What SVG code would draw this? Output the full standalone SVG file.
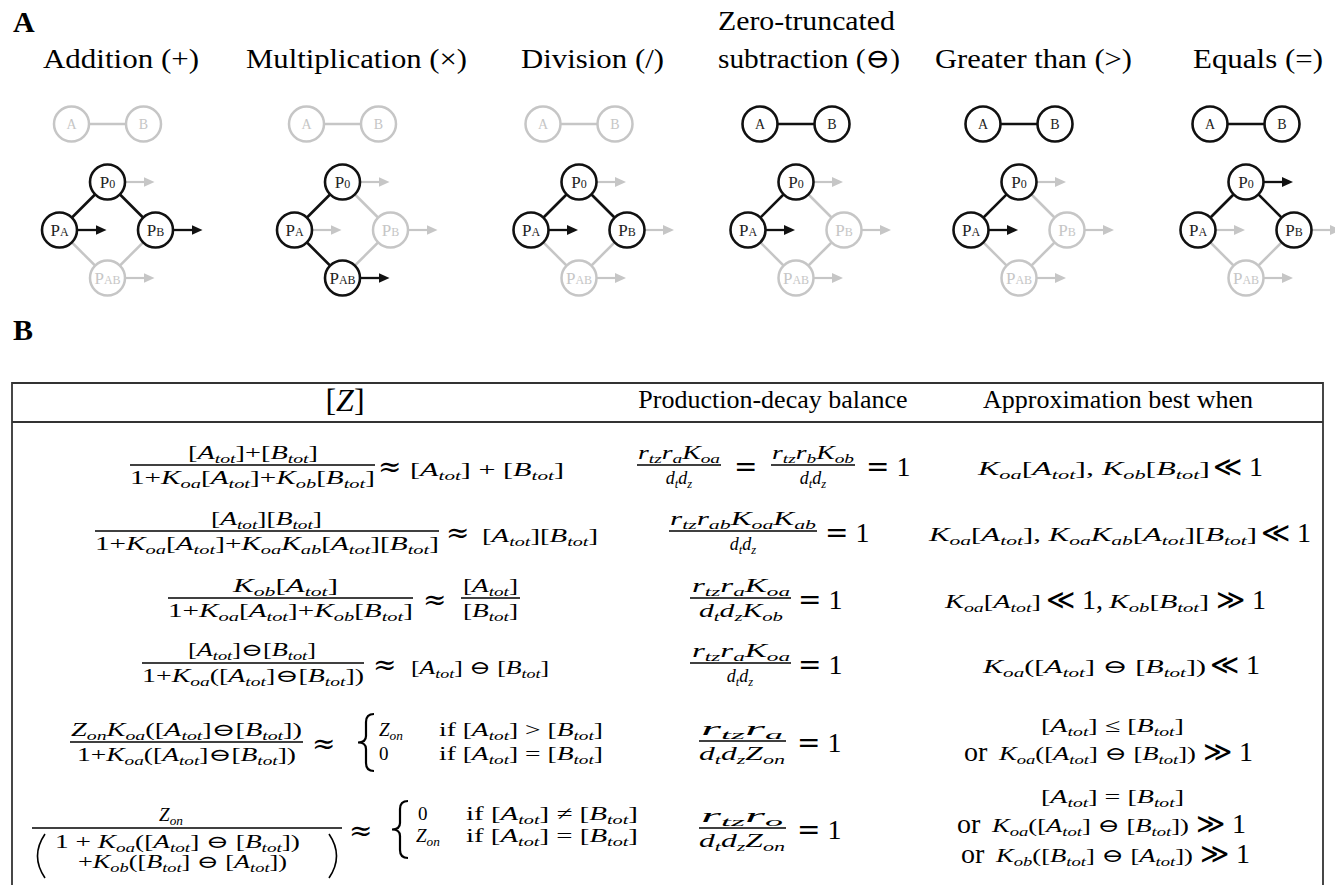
<svg xmlns="http://www.w3.org/2000/svg" width="1335" height="885" viewBox="0 0 1335 885">
<style>
.lbl{font-family:"Liberation Serif",serif;font-weight:bold;font-size:30px;fill:#000}
.ttl{font-family:"Liberation Serif","DejaVu Serif",serif;font-size:28px;fill:#000}
.nk circle{fill:#fff;stroke:#111;stroke-width:2.6}
.ng circle{fill:#fff;stroke:#c6c6c6;stroke-width:2.5}
.nk text{fill:#222}
.ng text{fill:#c6c6c6}
.nt{font-family:"Liberation Serif",serif;font-size:14px;text-anchor:middle}
.np{font-family:"Liberation Serif",serif;font-size:17px;text-anchor:middle}
.ek{stroke:#111;stroke-width:2.6}
.eg{stroke:#c6c6c6;stroke-width:2.5}
.ak{stroke:#111;stroke-width:2.3;marker-end:url(#mk)}
.ag{stroke:#c6c6c6;stroke-width:2.2;marker-end:url(#mg)}
.hd{font-family:"Liberation Serif",serif;font-size:26px;fill:#000;text-anchor:middle}
.m{font-family:"Liberation Serif","DejaVu Serif",serif;font-style:italic;fill:#000;font-size:18px}
.m19{font-size:19px}
.u{font-style:normal}
.s{font-size:70%}
.big{font-family:"Liberation Serif","DejaVu Serif",serif;font-size:28px;fill:#000}
.ap{font-family:"DejaVu Serif",serif;font-size:28px;fill:#000}
.sy{font-family:"DejaVu Serif",serif}
.bar{stroke:#000;stroke-width:1.4}
.br{fill:none;stroke:#000;stroke-width:1.6}
.brc{fill:none;stroke:#000;stroke-width:2.2}
.tb{fill:none;stroke:#333;stroke-width:1.8}
</style>
<defs>
<marker id="mk" markerUnits="userSpaceOnUse" markerWidth="12" markerHeight="10" refX="2" refY="5" orient="auto"><path d="M0,0 L11,5 L0,10 z" fill="#111"/></marker>
<marker id="mg" markerUnits="userSpaceOnUse" markerWidth="12" markerHeight="10" refX="2" refY="5" orient="auto"><path d="M0,0 L11,5 L0,10 z" fill="#c6c6c6"/></marker>
</defs>

<text class="lbl" x="13" y="32">A</text>
<text class="lbl" x="13" y="340">B</text>

<g id="titles">
<text class="ttl" x="43" y="68" textLength="156" lengthAdjust="spacingAndGlyphs">Addition (+)</text>
<text class="ttl" x="246" y="68" textLength="221" lengthAdjust="spacingAndGlyphs">Multiplication (×)</text>
<text class="ttl" x="521" y="68" textLength="143" lengthAdjust="spacingAndGlyphs">Division (/)</text>
<text class="ttl" x="718" y="30" textLength="177" lengthAdjust="spacingAndGlyphs">Zero-truncated</text>
<text class="ttl" x="718" y="68" textLength="182" lengthAdjust="spacingAndGlyphs">subtraction (⊖)</text>
<text class="ttl" x="935" y="68" textLength="197" lengthAdjust="spacingAndGlyphs">Greater than (&gt;)</text>
<text class="ttl" x="1193" y="68" textLength="130" lengthAdjust="spacingAndGlyphs">Equals (=)</text>
</g>

<g id="connectors">
<!-- col1 -->
<line class="eg" x1="71.5" y1="124" x2="143.5" y2="124"/>
<line class="eg" x1="59.5" y1="230" x2="107.5" y2="278"/>
<line class="eg" x1="155.5" y1="230" x2="107.5" y2="278"/>
<line class="ek" x1="107.5" y1="182" x2="59.5" y2="230"/>
<line class="ek" x1="107.5" y1="182" x2="155.5" y2="230"/>
<line class="ag" x1="125.5" y1="182" x2="145.5" y2="182"/>
<line class="ak" x1="77.5" y1="230" x2="97.5" y2="230"/>
<line class="ak" x1="173.5" y1="230" x2="193.5" y2="230"/>
<line class="ag" x1="125.5" y1="278" x2="145.5" y2="278"/>
<!-- col2 -->
<line class="eg" x1="306.5" y1="124" x2="378.5" y2="124"/>
<line class="eg" x1="342.5" y1="182" x2="390.5" y2="230"/>
<line class="eg" x1="390.5" y1="230" x2="342.5" y2="278"/>
<line class="ek" x1="342.5" y1="182" x2="294.5" y2="230"/>
<line class="ek" x1="294.5" y1="230" x2="342.5" y2="278"/>
<line class="ag" x1="360.5" y1="182" x2="380.5" y2="182"/>
<line class="ag" x1="312.5" y1="230" x2="332.5" y2="230"/>
<line class="ag" x1="408.5" y1="230" x2="428.5" y2="230"/>
<line class="ak" x1="360.5" y1="278" x2="380.5" y2="278"/>
<!-- col3 -->
<line class="eg" x1="543" y1="124" x2="615" y2="124"/>
<line class="eg" x1="531" y1="230" x2="579" y2="278"/>
<line class="eg" x1="627" y1="230" x2="579" y2="278"/>
<line class="ek" x1="579" y1="182" x2="531" y2="230"/>
<line class="ek" x1="579" y1="182" x2="627" y2="230"/>
<line class="ag" x1="597" y1="182" x2="617" y2="182"/>
<line class="ak" x1="549" y1="230" x2="569" y2="230"/>
<line class="ag" x1="645" y1="230" x2="665" y2="230"/>
<line class="ag" x1="597" y1="278" x2="617" y2="278"/>
<!-- col4 -->
<line class="eg" x1="796" y1="182" x2="844" y2="230"/>
<line class="eg" x1="748" y1="230" x2="796" y2="278"/>
<line class="eg" x1="844" y1="230" x2="796" y2="278"/>
<line class="ek" x1="760" y1="124" x2="832" y2="124"/>
<line class="ek" x1="796" y1="182" x2="748" y2="230"/>
<line class="ag" x1="814" y1="182" x2="834" y2="182"/>
<line class="ak" x1="766" y1="230" x2="786" y2="230"/>
<line class="ag" x1="862" y1="230" x2="882" y2="230"/>
<line class="ag" x1="814" y1="278" x2="834" y2="278"/>
<!-- col5 -->
<line class="eg" x1="1019" y1="182" x2="1067" y2="230"/>
<line class="eg" x1="971" y1="230" x2="1019" y2="278"/>
<line class="eg" x1="1067" y1="230" x2="1019" y2="278"/>
<line class="ek" x1="983" y1="124" x2="1055" y2="124"/>
<line class="ek" x1="1019" y1="182" x2="971" y2="230"/>
<line class="ag" x1="1037" y1="182" x2="1057" y2="182"/>
<line class="ak" x1="989" y1="230" x2="1009" y2="230"/>
<line class="ag" x1="1085" y1="230" x2="1105" y2="230"/>
<line class="ag" x1="1037" y1="278" x2="1057" y2="278"/>
<!-- col6 -->
<line class="eg" x1="1198" y1="230" x2="1246" y2="278"/>
<line class="eg" x1="1294" y1="230" x2="1246" y2="278"/>
<line class="ek" x1="1210" y1="124" x2="1282" y2="124"/>
<line class="ek" x1="1246" y1="182" x2="1198" y2="230"/>
<line class="ek" x1="1246" y1="182" x2="1294" y2="230"/>
<line class="ak" x1="1264" y1="182" x2="1284" y2="182"/>
<line class="ag" x1="1216" y1="230" x2="1236" y2="230"/>
<line class="ag" x1="1312" y1="230" x2="1332" y2="230"/>
<line class="ag" x1="1264" y1="278" x2="1284" y2="278"/>
</g>

<!-- col1 nodes -->
<g id="c1-A" class="ng"><circle cx="71.5" cy="124" r="17.5"/><text class="nt" x="71.5" y="129">A</text></g>
<g id="c1-B" class="ng"><circle cx="143.5" cy="124" r="17.5"/><text class="nt" x="143.5" y="129">B</text></g>
<g id="c1-P0" class="nk"><circle cx="107.5" cy="182" r="17.5"/><text class="np" x="107.5" y="188">P<tspan font-size="12">0</tspan></text></g>
<g id="c1-PA" class="nk"><circle cx="59.5" cy="230" r="17.5"/><text class="np" x="59.5" y="236">P<tspan font-size="12">A</tspan></text></g>
<g id="c1-PB" class="nk"><circle cx="155.5" cy="230" r="17.5"/><text class="np" x="155.5" y="236">P<tspan font-size="12">B</tspan></text></g>
<g id="c1-PAB" class="ng"><circle cx="107.5" cy="278" r="17.5"/><text class="np" x="107.5" y="284">P<tspan font-size="12">AB</tspan></text></g>
<!-- col2 nodes -->
<g id="c2-A" class="ng"><circle cx="306.5" cy="124" r="17.5"/><text class="nt" x="306.5" y="129">A</text></g>
<g id="c2-B" class="ng"><circle cx="378.5" cy="124" r="17.5"/><text class="nt" x="378.5" y="129">B</text></g>
<g id="c2-P0" class="nk"><circle cx="342.5" cy="182" r="17.5"/><text class="np" x="342.5" y="188">P<tspan font-size="12">0</tspan></text></g>
<g id="c2-PA" class="nk"><circle cx="294.5" cy="230" r="17.5"/><text class="np" x="294.5" y="236">P<tspan font-size="12">A</tspan></text></g>
<g id="c2-PB" class="ng"><circle cx="390.5" cy="230" r="17.5"/><text class="np" x="390.5" y="236">P<tspan font-size="12">B</tspan></text></g>
<g id="c2-PAB" class="nk"><circle cx="342.5" cy="278" r="17.5"/><text class="np" x="342.5" y="284">P<tspan font-size="12">AB</tspan></text></g>
<!-- col3 nodes -->
<g id="c3-A" class="ng"><circle cx="543" cy="124" r="17.5"/><text class="nt" x="543" y="129">A</text></g>
<g id="c3-B" class="ng"><circle cx="615" cy="124" r="17.5"/><text class="nt" x="615" y="129">B</text></g>
<g id="c3-P0" class="nk"><circle cx="579" cy="182" r="17.5"/><text class="np" x="579" y="188">P<tspan font-size="12">0</tspan></text></g>
<g id="c3-PA" class="nk"><circle cx="531" cy="230" r="17.5"/><text class="np" x="531" y="236">P<tspan font-size="12">A</tspan></text></g>
<g id="c3-PB" class="nk"><circle cx="627" cy="230" r="17.5"/><text class="np" x="627" y="236">P<tspan font-size="12">B</tspan></text></g>
<g id="c3-PAB" class="ng"><circle cx="579" cy="278" r="17.5"/><text class="np" x="579" y="284">P<tspan font-size="12">AB</tspan></text></g>
<!-- col4 nodes -->
<g id="c4-A" class="nk"><circle cx="760" cy="124" r="17.5"/><text class="nt" x="760" y="129">A</text></g>
<g id="c4-B" class="nk"><circle cx="832" cy="124" r="17.5"/><text class="nt" x="832" y="129">B</text></g>
<g id="c4-P0" class="nk"><circle cx="796" cy="182" r="17.5"/><text class="np" x="796" y="188">P<tspan font-size="12">0</tspan></text></g>
<g id="c4-PA" class="nk"><circle cx="748" cy="230" r="17.5"/><text class="np" x="748" y="236">P<tspan font-size="12">A</tspan></text></g>
<g id="c4-PB" class="ng"><circle cx="844" cy="230" r="17.5"/><text class="np" x="844" y="236">P<tspan font-size="12">B</tspan></text></g>
<g id="c4-PAB" class="ng"><circle cx="796" cy="278" r="17.5"/><text class="np" x="796" y="284">P<tspan font-size="12">AB</tspan></text></g>
<!-- col5 nodes -->
<g id="c5-A" class="nk"><circle cx="983" cy="124" r="17.5"/><text class="nt" x="983" y="129">A</text></g>
<g id="c5-B" class="nk"><circle cx="1055" cy="124" r="17.5"/><text class="nt" x="1055" y="129">B</text></g>
<g id="c5-P0" class="nk"><circle cx="1019" cy="182" r="17.5"/><text class="np" x="1019" y="188">P<tspan font-size="12">0</tspan></text></g>
<g id="c5-PA" class="nk"><circle cx="971" cy="230" r="17.5"/><text class="np" x="971" y="236">P<tspan font-size="12">A</tspan></text></g>
<g id="c5-PB" class="ng"><circle cx="1067" cy="230" r="17.5"/><text class="np" x="1067" y="236">P<tspan font-size="12">B</tspan></text></g>
<g id="c5-PAB" class="ng"><circle cx="1019" cy="278" r="17.5"/><text class="np" x="1019" y="284">P<tspan font-size="12">AB</tspan></text></g>
<!-- col6 nodes -->
<g id="c6-A" class="nk"><circle cx="1210" cy="124" r="17.5"/><text class="nt" x="1210" y="129">A</text></g>
<g id="c6-B" class="nk"><circle cx="1282" cy="124" r="17.5"/><text class="nt" x="1282" y="129">B</text></g>
<g id="c6-P0" class="nk"><circle cx="1246" cy="182" r="17.5"/><text class="np" x="1246" y="188">P<tspan font-size="12">0</tspan></text></g>
<g id="c6-PA" class="nk"><circle cx="1198" cy="230" r="17.5"/><text class="np" x="1198" y="236">P<tspan font-size="12">A</tspan></text></g>
<g id="c6-PB" class="nk"><circle cx="1294" cy="230" r="17.5"/><text class="np" x="1294" y="236">P<tspan font-size="12">B</tspan></text></g>
<g id="c6-PAB" class="ng"><circle cx="1246" cy="278" r="17.5"/><text class="np" x="1246" y="284">P<tspan font-size="12">AB</tspan></text></g>

<g id="table">
<path class="tb" d="M12 885 V383 H1323 V885"/>
<line class="tb" x1="12" y1="422" x2="1323" y2="422"/>
<text class="m" x="345" y="411" text-anchor="middle" style="font-size:32px"><tspan class="u">[</tspan>Z<tspan class="u">]</tspan></text>
<text class="hd" x="773" y="408">Production-decay balance</text>
<text class="hd" x="1118" y="408">Approximation best when</text>

<!-- row 1 -->
<text class="m" x="188" y="459" textLength="130" lengthAdjust="spacingAndGlyphs"><tspan class="u">[</tspan>A<tspan class="s" dy="4">tot</tspan><tspan class="u" dy="-4">]+[</tspan>B<tspan class="s" dy="4">tot</tspan><tspan class="u" dy="-4">]</tspan></text>
<line class="bar" x1="130" y1="465" x2="375" y2="465"/>
<text class="m" x="130" y="484" textLength="245" lengthAdjust="spacingAndGlyphs"><tspan class="u">1+</tspan>K<tspan class="s" dy="4">oa</tspan><tspan class="u" dy="-4">[</tspan>A<tspan class="s" dy="4">tot</tspan><tspan class="u" dy="-4">]+</tspan>K<tspan class="s" dy="4">ob</tspan><tspan class="u" dy="-4">[</tspan>B<tspan class="s" dy="4">tot</tspan><tspan class="u" dy="-4">]</tspan></text>
<text class="ap" x="378" y="476">≈</text>
<text class="m m19" x="410" y="476" textLength="154" lengthAdjust="spacingAndGlyphs"><tspan class="u">[</tspan>A<tspan class="s" dy="4">tot</tspan><tspan class="u" dy="-4">] + [</tspan>B<tspan class="s" dy="4">tot</tspan><tspan class="u" dy="-4">]</tspan></text>

<text class="m" x="638" y="459" textLength="82" lengthAdjust="spacingAndGlyphs">r<tspan class="s" dy="4">tz</tspan><tspan dy="-4">r</tspan><tspan class="s" dy="4">a</tspan><tspan dy="-4">K</tspan><tspan class="s" dy="4">oa</tspan></text>
<line class="bar" x1="637" y1="465" x2="721" y2="465"/>
<text class="m" x="679" y="484" text-anchor="middle">d<tspan class="s" dy="4">t</tspan><tspan dy="-4">d</tspan><tspan class="s" dy="4">z</tspan></text>
<text class="ap" x="734" y="476">=</text>
<text class="m" x="772" y="459" textLength="82" lengthAdjust="spacingAndGlyphs">r<tspan class="s" dy="4">tz</tspan><tspan dy="-4">r</tspan><tspan class="s" dy="4">b</tspan><tspan dy="-4">K</tspan><tspan class="s" dy="4">ob</tspan></text>
<line class="bar" x1="771" y1="465" x2="855" y2="465"/>
<text class="m" x="813" y="484" text-anchor="middle">d<tspan class="s" dy="4">t</tspan><tspan dy="-4">d</tspan><tspan class="s" dy="4">z</tspan></text>
<text class="big" x="866" y="476"><tspan class="sy">=</tspan> 1</text>

<text class="m m19" x="978" y="475" textLength="232" lengthAdjust="spacingAndGlyphs">K<tspan class="s" dy="4">oa</tspan><tspan class="u" dy="-4">[</tspan>A<tspan class="s" dy="4">tot</tspan><tspan class="u" dy="-4">], </tspan>K<tspan class="s" dy="4">ob</tspan><tspan class="u" dy="-4">[</tspan>B<tspan class="s" dy="4">tot</tspan><tspan class="u" dy="-4">]</tspan></text>
<text class="big" x="1213" y="476"><tspan class="sy">≪</tspan> 1</text>

<!-- row 2 -->
<text class="m" x="211" y="525" textLength="111" lengthAdjust="spacingAndGlyphs"><tspan class="u">[</tspan>A<tspan class="s" dy="4">tot</tspan><tspan class="u" dy="-4">][</tspan>B<tspan class="s" dy="4">tot</tspan><tspan class="u" dy="-4">]</tspan></text>
<line class="bar" x1="95" y1="531" x2="439" y2="531"/>
<text class="m" x="95" y="550" textLength="344" lengthAdjust="spacingAndGlyphs"><tspan class="u">1+</tspan>K<tspan class="s" dy="4">oa</tspan><tspan class="u" dy="-4">[</tspan>A<tspan class="s" dy="4">tot</tspan><tspan class="u" dy="-4">]+</tspan>K<tspan class="s" dy="4">oa</tspan><tspan dy="-4">K</tspan><tspan class="s" dy="4">ab</tspan><tspan class="u" dy="-4">[</tspan>A<tspan class="s" dy="4">tot</tspan><tspan class="u" dy="-4">][</tspan>B<tspan class="s" dy="4">tot</tspan><tspan class="u" dy="-4">]</tspan></text>
<text class="ap" x="446" y="542">≈</text>
<text class="m m19" x="482" y="542" textLength="116" lengthAdjust="spacingAndGlyphs"><tspan class="u">[</tspan>A<tspan class="s" dy="4">tot</tspan><tspan class="u" dy="-4">][</tspan>B<tspan class="s" dy="4">tot</tspan><tspan class="u" dy="-4">]</tspan></text>

<text class="m" x="670" y="525" textLength="146" lengthAdjust="spacingAndGlyphs">r<tspan class="s" dy="4">tz</tspan><tspan dy="-4">r</tspan><tspan class="s" dy="4">ab</tspan><tspan dy="-4">K</tspan><tspan class="s" dy="4">oa</tspan><tspan dy="-4">K</tspan><tspan class="s" dy="4">ab</tspan></text>
<line class="bar" x1="669" y1="531" x2="817" y2="531"/>
<text class="m" x="743" y="550" text-anchor="middle">d<tspan class="s" dy="4">t</tspan><tspan dy="-4">d</tspan><tspan class="s" dy="4">z</tspan></text>
<text class="big" x="825" y="542"><tspan class="sy">=</tspan> 1</text>

<text class="m m19" x="929" y="541" textLength="328" lengthAdjust="spacingAndGlyphs">K<tspan class="s" dy="4">oa</tspan><tspan class="u" dy="-4">[</tspan>A<tspan class="s" dy="4">tot</tspan><tspan class="u" dy="-4">], </tspan>K<tspan class="s" dy="4">oa</tspan><tspan dy="-4">K</tspan><tspan class="s" dy="4">ab</tspan><tspan class="u" dy="-4">[</tspan>A<tspan class="s" dy="4">tot</tspan><tspan class="u" dy="-4">][</tspan>B<tspan class="s" dy="4">tot</tspan><tspan class="u" dy="-4">]</tspan></text>
<text class="big" x="1261" y="542"><tspan class="sy">≪</tspan> 1</text>

<!-- row 3 -->
<text class="m" x="233" y="592" textLength="105" lengthAdjust="spacingAndGlyphs">K<tspan class="s" dy="4">ob</tspan><tspan class="u" dy="-4">[</tspan>A<tspan class="s" dy="4">tot</tspan><tspan class="u" dy="-4">]</tspan></text>
<line class="bar" x1="168" y1="598" x2="413" y2="598"/>
<text class="m" x="168" y="617" textLength="245" lengthAdjust="spacingAndGlyphs"><tspan class="u">1+</tspan>K<tspan class="s" dy="4">oa</tspan><tspan class="u" dy="-4">[</tspan>A<tspan class="s" dy="4">tot</tspan><tspan class="u" dy="-4">]+</tspan>K<tspan class="s" dy="4">ob</tspan><tspan class="u" dy="-4">[</tspan>B<tspan class="s" dy="4">tot</tspan><tspan class="u" dy="-4">]</tspan></text>
<text class="ap" x="423" y="609">≈</text>
<text class="m" x="463" y="592" textLength="55" lengthAdjust="spacingAndGlyphs"><tspan class="u">[</tspan>A<tspan class="s" dy="4">tot</tspan><tspan class="u" dy="-4">]</tspan></text>
<line class="bar" x1="461" y1="598" x2="520" y2="598"/>
<text class="m" x="463" y="617" textLength="55" lengthAdjust="spacingAndGlyphs"><tspan class="u">[</tspan>B<tspan class="s" dy="4">tot</tspan><tspan class="u" dy="-4">]</tspan></text>

<text class="m" x="692" y="592" textLength="98" lengthAdjust="spacingAndGlyphs">r<tspan class="s" dy="4">tz</tspan><tspan dy="-4">r</tspan><tspan class="s" dy="4">a</tspan><tspan dy="-4">K</tspan><tspan class="s" dy="4">oa</tspan></text>
<line class="bar" x1="690" y1="598" x2="791" y2="598"/>
<text class="m" x="699" y="617" textLength="84" lengthAdjust="spacingAndGlyphs">d<tspan class="s" dy="4">t</tspan><tspan dy="-4">d</tspan><tspan class="s" dy="4">z</tspan><tspan dy="-4">K</tspan><tspan class="s" dy="4">ob</tspan></text>
<text class="big" x="798" y="609"><tspan class="sy">=</tspan> 1</text>

<text class="m m19" x="945" y="608" textLength="96" lengthAdjust="spacingAndGlyphs">K<tspan class="s" dy="4">oa</tspan><tspan class="u" dy="-4">[</tspan>A<tspan class="s" dy="4">tot</tspan><tspan class="u" dy="-4">]</tspan></text>
<text class="big" x="1046" y="609"><tspan class="sy">≪</tspan> 1,</text>
<text class="m m19" x="1109" y="608" textLength="100" lengthAdjust="spacingAndGlyphs">K<tspan class="s" dy="4">ob</tspan><tspan class="u" dy="-4">[</tspan>B<tspan class="s" dy="4">tot</tspan><tspan class="u" dy="-4">]</tspan></text>
<text class="big" x="1216" y="609"><tspan class="sy">≫</tspan> 1</text>

<!-- row 4 -->
<text class="m" x="188" y="656" textLength="128" lengthAdjust="spacingAndGlyphs"><tspan class="u">[</tspan>A<tspan class="s" dy="4">tot</tspan><tspan class="u" dy="-4">]⊖[</tspan>B<tspan class="s" dy="4">tot</tspan><tspan class="u" dy="-4">]</tspan></text>
<line class="bar" x1="142" y1="663" x2="364" y2="663"/>
<text class="m" x="142" y="682" textLength="222" lengthAdjust="spacingAndGlyphs"><tspan class="u">1+</tspan>K<tspan class="s" dy="4">oa</tspan><tspan class="u" dy="-4">([</tspan>A<tspan class="s" dy="4">tot</tspan><tspan class="u" dy="-4">]⊖[</tspan>B<tspan class="s" dy="4">tot</tspan><tspan class="u" dy="-4">])</tspan></text>
<text class="ap" x="373" y="674">≈</text>
<text class="m m19" x="411" y="674" textLength="138" lengthAdjust="spacingAndGlyphs"><tspan class="u">[</tspan>A<tspan class="s" dy="4">tot</tspan><tspan class="u" dy="-4">] ⊖ [</tspan>B<tspan class="s" dy="4">tot</tspan><tspan class="u" dy="-4">]</tspan></text>

<text class="m" x="692" y="657" textLength="98" lengthAdjust="spacingAndGlyphs">r<tspan class="s" dy="4">tz</tspan><tspan dy="-4">r</tspan><tspan class="s" dy="4">a</tspan><tspan dy="-4">K</tspan><tspan class="s" dy="4">oa</tspan></text>
<line class="bar" x1="690" y1="663" x2="791" y2="663"/>
<text class="m" x="740" y="682" text-anchor="middle">d<tspan class="s" dy="4">t</tspan><tspan dy="-4">d</tspan><tspan class="s" dy="4">z</tspan></text>
<text class="big" x="798" y="674"><tspan class="sy">=</tspan> 1</text>

<text class="m m19" x="983" y="673" textLength="223" lengthAdjust="spacingAndGlyphs">K<tspan class="s" dy="4">oa</tspan><tspan class="u" dy="-4">([</tspan>A<tspan class="s" dy="4">tot</tspan><tspan class="u" dy="-4">] ⊖ [</tspan>B<tspan class="s" dy="4">tot</tspan><tspan class="u" dy="-4">])</tspan></text>
<text class="big" x="1210" y="674"><tspan class="sy">≪</tspan> 1</text>

<!-- row 5 -->
<text class="m" x="71" y="736" textLength="231" lengthAdjust="spacingAndGlyphs">Z<tspan class="s" dy="4">on</tspan><tspan dy="-4">K</tspan><tspan class="s" dy="4">oa</tspan><tspan class="u" dy="-4">([</tspan>A<tspan class="s" dy="4">tot</tspan><tspan class="u" dy="-4">]⊖[</tspan>B<tspan class="s" dy="4">tot</tspan><tspan class="u" dy="-4">])</tspan></text>
<line class="bar" x1="70" y1="742" x2="303" y2="742"/>
<text class="m" x="77" y="761" textLength="219" lengthAdjust="spacingAndGlyphs"><tspan class="u">1+</tspan>K<tspan class="s" dy="4">oa</tspan><tspan class="u" dy="-4">([</tspan>A<tspan class="s" dy="4">tot</tspan><tspan class="u" dy="-4">]⊖[</tspan>B<tspan class="s" dy="4">tot</tspan><tspan class="u" dy="-4">])</tspan></text>
<text class="ap" x="312" y="753">≈</text>
<path class="brc" d="M374 714 Q366 714 366 722 L366 736 Q366 742.5 358 742.5 Q366 742.5 366 749 L366 763 Q366 771 374 771"/>
<text class="m m19" x="379" y="736">Z<tspan class="s" dy="4">on</tspan></text>
<text class="m m19" x="439" y="736" textLength="164" lengthAdjust="spacingAndGlyphs"><tspan class="u">if [</tspan>A<tspan class="s" dy="4">tot</tspan><tspan class="u" dy="-4">] &gt; [</tspan>B<tspan class="s" dy="4">tot</tspan><tspan class="u" dy="-4">]</tspan></text>
<text class="m m19" x="379" y="760"><tspan class="u">0</tspan></text>
<text class="m m19" x="439" y="760" textLength="164" lengthAdjust="spacingAndGlyphs"><tspan class="u">if [</tspan>A<tspan class="s" dy="4">tot</tspan><tspan class="u" dy="-4">] = [</tspan>B<tspan class="s" dy="4">tot</tspan><tspan class="u" dy="-4">]</tspan></text>

<text class="m" x="701" y="735" textLength="82" lengthAdjust="spacingAndGlyphs">r<tspan class="s" dy="4">tz</tspan><tspan dy="-4">r</tspan><tspan class="s" dy="4">a</tspan></text>
<line class="bar" x1="699" y1="741" x2="786" y2="741"/>
<text class="m" x="699" y="760" textLength="86" lengthAdjust="spacingAndGlyphs">d<tspan class="s" dy="4">t</tspan><tspan dy="-4">d</tspan><tspan class="s" dy="4">z</tspan><tspan dy="-4">Z</tspan><tspan class="s" dy="4">on</tspan></text>
<text class="big" x="797" y="752"><tspan class="sy">=</tspan> 1</text>

<text class="m m19" x="1041" y="732" textLength="143" lengthAdjust="spacingAndGlyphs"><tspan class="u">[</tspan>A<tspan class="s" dy="4">tot</tspan><tspan class="u" dy="-4">] ≤ [</tspan>B<tspan class="s" dy="4">tot</tspan><tspan class="u" dy="-4">]</tspan></text>
<text class="big" x="964" y="761">or</text>
<text class="m m19" x="999" y="760" textLength="197" lengthAdjust="spacingAndGlyphs">K<tspan class="s" dy="4">oa</tspan><tspan class="u" dy="-4">([</tspan>A<tspan class="s" dy="4">tot</tspan><tspan class="u" dy="-4">] ⊖ [</tspan>B<tspan class="s" dy="4">tot</tspan><tspan class="u" dy="-4">])</tspan></text>
<text class="big" x="1203" y="761"><tspan class="sy">≫</tspan> 1</text>

<!-- row 6 -->
<text class="m" x="171" y="821" text-anchor="middle" style="font-size:19px">Z<tspan class="s" dy="4">on</tspan></text>
<line class="bar" x1="32" y1="828" x2="342" y2="828"/>
<path class="br" d="M45 834 Q30 856 45 878"/>
<path class="br" d="M329 834 Q344 856 329 878"/>
<text class="m" x="55" y="848" textLength="245" lengthAdjust="spacingAndGlyphs"><tspan class="u">1 + </tspan>K<tspan class="s" dy="4">oa</tspan><tspan class="u" dy="-4">([</tspan>A<tspan class="s" dy="4">tot</tspan><tspan class="u" dy="-4">] ⊖ [</tspan>B<tspan class="s" dy="4">tot</tspan><tspan class="u" dy="-4">])</tspan></text>
<text class="m" x="78" y="868" textLength="209" lengthAdjust="spacingAndGlyphs"><tspan class="u">+</tspan>K<tspan class="s" dy="4">ob</tspan><tspan class="u" dy="-4">([</tspan>B<tspan class="s" dy="4">tot</tspan><tspan class="u" dy="-4">] ⊖ [</tspan>A<tspan class="s" dy="4">tot</tspan><tspan class="u" dy="-4">])</tspan></text>
<text class="ap" x="349" y="840">≈</text>
<path class="brc" d="M408 801 Q400 801 400 809 L400 823 Q400 829.5 392 829.5 Q400 829.5 400 836 L400 850 Q400 858 408 858"/>
<text class="m m19" x="418" y="820"><tspan class="u">0</tspan></text>
<text class="m m19" x="466" y="820" textLength="172" lengthAdjust="spacingAndGlyphs"><tspan class="u">if [</tspan>A<tspan class="s" dy="4">tot</tspan><tspan class="u" dy="-4">] ≠ [</tspan>B<tspan class="s" dy="4">tot</tspan><tspan class="u" dy="-4">]</tspan></text>
<text class="m m19" x="416" y="842">Z<tspan class="s" dy="4">on</tspan></text>
<text class="m m19" x="466" y="842" textLength="172" lengthAdjust="spacingAndGlyphs"><tspan class="u">if [</tspan>A<tspan class="s" dy="4">tot</tspan><tspan class="u" dy="-4">] = [</tspan>B<tspan class="s" dy="4">tot</tspan><tspan class="u" dy="-4">]</tspan></text>

<text class="m" x="701" y="822" textLength="82" lengthAdjust="spacingAndGlyphs">r<tspan class="s" dy="4">tz</tspan><tspan dy="-4">r</tspan><tspan class="s" dy="4">o</tspan></text>
<line class="bar" x1="699" y1="828" x2="786" y2="828"/>
<text class="m" x="699" y="847" textLength="86" lengthAdjust="spacingAndGlyphs">d<tspan class="s" dy="4">t</tspan><tspan dy="-4">d</tspan><tspan class="s" dy="4">z</tspan><tspan dy="-4">Z</tspan><tspan class="s" dy="4">on</tspan></text>
<text class="big" x="797" y="839"><tspan class="sy">=</tspan> 1</text>

<text class="m m19" x="1041" y="803" textLength="143" lengthAdjust="spacingAndGlyphs"><tspan class="u">[</tspan>A<tspan class="s" dy="4">tot</tspan><tspan class="u" dy="-4">] = [</tspan>B<tspan class="s" dy="4">tot</tspan><tspan class="u" dy="-4">]</tspan></text>
<text class="big" x="957" y="833">or</text>
<text class="m m19" x="992" y="832" textLength="197" lengthAdjust="spacingAndGlyphs">K<tspan class="s" dy="4">oa</tspan><tspan class="u" dy="-4">([</tspan>A<tspan class="s" dy="4">tot</tspan><tspan class="u" dy="-4">] ⊖ [</tspan>B<tspan class="s" dy="4">tot</tspan><tspan class="u" dy="-4">])</tspan></text>
<text class="big" x="1196" y="833"><tspan class="sy">≫</tspan> 1</text>
<text class="big" x="961" y="863">or</text>
<text class="m m19" x="996" y="862" textLength="197" lengthAdjust="spacingAndGlyphs">K<tspan class="s" dy="4">ob</tspan><tspan class="u" dy="-4">([</tspan>B<tspan class="s" dy="4">tot</tspan><tspan class="u" dy="-4">] ⊖ [</tspan>A<tspan class="s" dy="4">tot</tspan><tspan class="u" dy="-4">])</tspan></text>
<text class="big" x="1200" y="863"><tspan class="sy">≫</tspan> 1</text>
</g>
</svg>
